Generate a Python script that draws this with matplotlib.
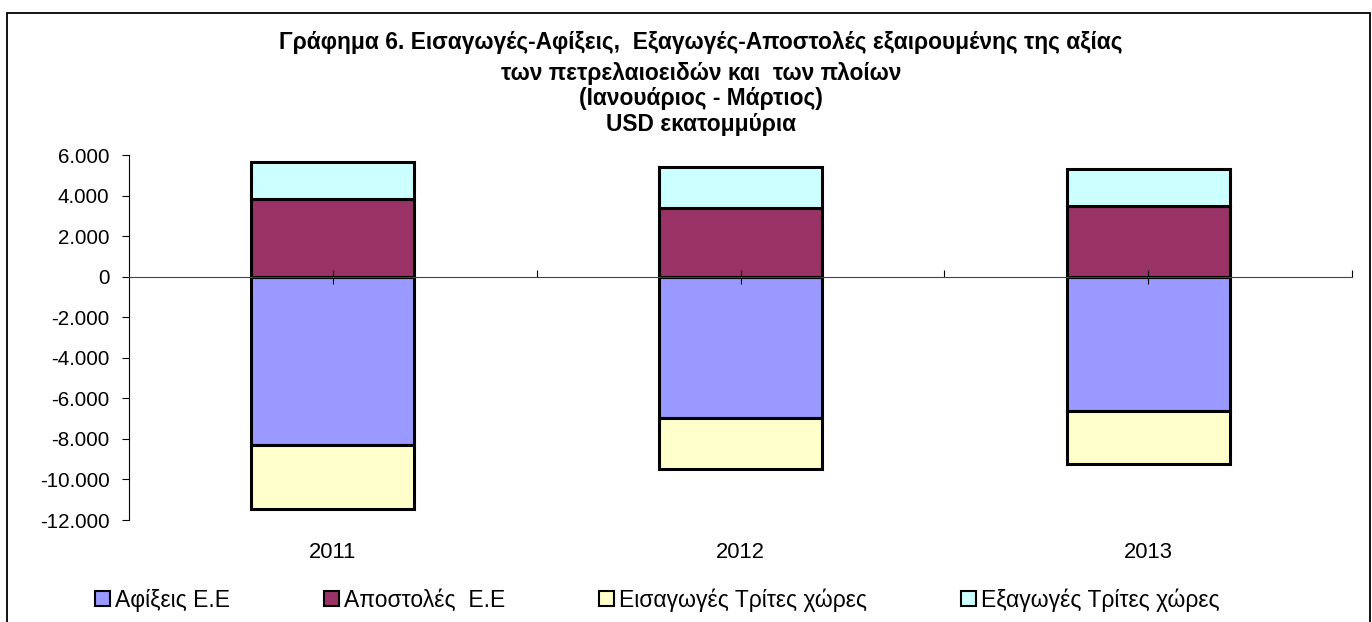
import numpy as np
import matplotlib
matplotlib.use('Agg')
import matplotlib.pyplot as plt
from matplotlib.patches import Patch, Rectangle
from matplotlib.ticker import FuncFormatter, FixedLocator

plt.rcParams['font.family'] = ['Liberation Sans', 'DejaVu Sans']

years = ['2011', '2012', '2013']
afixeis = [-8300, -6950, -6620]        # Αφίξεις Ε.Ε
apostoles = [3850, 3420, 3490]         # Αποστολές Ε.Ε
eisagoges = [-3140, -2550, -2630]      # Εισαγωγές Τρίτες χώρες
exagoges = [1810, 2000, 1830]          # Εξαγωγές Τρίτες χώρες

labels = ['Αφίξεις Ε.Ε', 'Αποστολές  Ε.Ε', 'Εισαγωγές Τρίτες χώρες', 'Εξαγωγές Τρίτες χώρες']
colors = ['#9999FF', '#993366', '#FFFFCC', '#CCFFFF']

title_lines = ['Γράφημα 6. Εισαγωγές-Αφίξεις,  Εξαγωγές-Αποστολές εξαιρουμένης της αξίας',
               'των πετρελαιοειδών και  των πλοίων',
               '(Ιανουάριος - Μάρτιος)',
               'USD εκατομμύρια']

W, H = 1372, 622
fig = plt.figure(figsize=(W / 100, H / 100), dpi=100)
ax = fig.add_axes([129 / W, 1 - 520 / H, (1352 - 129) / W, (520 - 155.5) / H])

x = np.arange(len(years))
bw = 0.4
ec = dict(edgecolor='black', linewidth=2.2)
ax.bar(x, afixeis, bw, color=colors[0], **ec)
ax.bar(x, eisagoges, bw, bottom=afixeis, color=colors[2], **ec)
ax.bar(x, apostoles, bw, color=colors[1], **ec)
ax.bar(x, exagoges, bw, bottom=apostoles, color=colors[3], **ec)

ax.set_xlim(-0.5, len(years) - 0.5)
ax.set_ylim(-12000, 6000)
ax.set_yticks(np.arange(-12000, 6001, 2000))
ax.yaxis.set_major_formatter(FuncFormatter(lambda v, p: f'{v:,.0f}'.replace(',', '.')))
ax.tick_params(axis='y', direction='out', length=5, width=0.8, pad=9, labelsize=14.8)

# category axis crossing at zero, ticks between categories
for s in ['top', 'right']:
    ax.spines[s].set_visible(False)
ax.spines['bottom'].set_position(('data', 0))
ax.spines['bottom'].set_color('#444444')
ax.spines['left'].set_linewidth(0.8)
ax.xaxis.set_major_locator(FixedLocator(x + 0.5))
ax.xaxis.set_minor_locator(FixedLocator(x))
ax.tick_params(axis='x', which='major', direction='in', length=5, width=0.8, labelbottom=False)
ax.tick_params(axis='x', which='minor', direction='inout', length=10, width=0.8, labelbottom=False)

for xi, yr in zip(x, years):
    ax.text(xi, -0.09, yr, transform=ax.get_xaxis_transform(), ha='center', va='center', fontsize=15.8)

# title
for ty, line in zip([49, 80, 105, 131], title_lines):
    fig.text(701 / W, 1 - ty / H, line, ha='center', va='baseline', fontsize=16.4, fontweight='bold')

# legend
handles = [Patch(facecolor=c, edgecolor='black', linewidth=1.5) for c in colors]
fig.legend(handles, labels, loc='center left', bbox_to_anchor=(95 / W, 1 - 600 / H), ncol=4,
           frameon=False, fontsize=16.5, borderpad=0, borderaxespad=0, handlelength=0.65,
           handleheight=0.65, handletextpad=0.22, columnspacing=4.1)

# outer chart border
fig.patches.append(Rectangle((7 / W, -0.05), (1370 - 7) / W, 1.05 - 12.7 / H, transform=fig.transFigure,
                             fill=False, edgecolor='black', linewidth=1.3))

plt.savefig('out.png', dpi=100)
